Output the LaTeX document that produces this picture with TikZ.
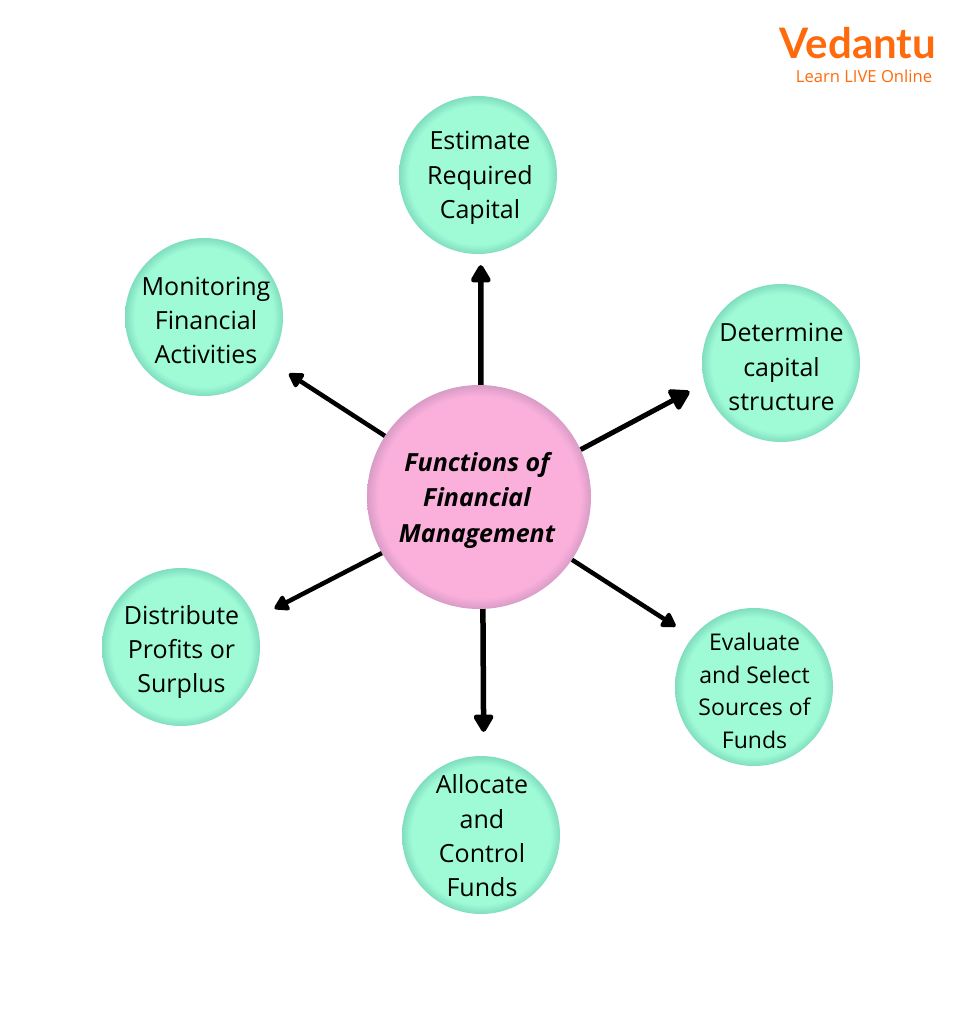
\documentclass[tikz,border=0pt]{standalone}
\usepackage{fontspec}
\setmainfont{Open Sans}
\newfontfamily\logofont{Lato}
\usetikzlibrary{arrows.meta}
\definecolor{ballgreen}{HTML}{9FFBD6}
\definecolor{edgegreen}{HTML}{80DDBF}
\definecolor{ballpink}{HTML}{FBB0DC}
\definecolor{edgepink}{HTML}{D89CC6}
\definecolor{logoorange}{HTML}{FF6A0D}
\pgfdeclareradialshading{greenball}{\pgfpointorigin}{color(0bp)=(ballgreen); color(22bp)=(ballgreen); color(25bp)=(edgegreen); color(50bp)=(edgegreen)}
\pgfdeclareradialshading{pinkball}{\pgfpointorigin}{color(0bp)=(ballpink); color(22.5bp)=(ballpink); color(25bp)=(edgepink); color(50bp)=(edgepink)}
\begin{document}
\begin{tikzpicture}[
        x=1pt, y=-1pt,
        every node/.style={font=\fontsize{25}{34.3}\selectfont, align=center, inner sep=0pt},
        task/.style={circle, shading=greenball, minimum size=158pt},
        hub/.style={circle, shading=pinkball, minimum size=224pt},
        bigarrow/.style={-{Triangle[length=22pt, width=25pt, round]}, line width=5pt},
        thickarrow/.style={-{Triangle[length=20pt, width=22pt, round]}, line width=5.5pt},
        thinarrow/.style={-{Triangle[length=16pt, width=18pt, round]}, line width=4.5pt}
    ]
    \useasboundingbox (0,0) rectangle (957,1011);

    \node[hub] (functions) at (479,497) {};
    \node[font=\fontsize{25}{35.5}\selectfont] (functionstext) at (477,500) {\bfseries\itshape Functions of\\\bfseries\itshape Financial\\\bfseries\itshape Management};

    \node[task] (estimate) at (478,175) {};
    \node (estimatetext) at (480,178) {Estimate\\Required\\Capital};
    \node[task] (determine) at (781,363) {};
    \node (determinetext) at (781.5,367) {Determine\\capital\\structure};
    \node[task] (evaluate) at (754,687) {};
    \node[font=\fontsize{23}{32.5}\selectfont] (evaluatetext) at (754.5,691) {Evaluate\\and Select\\Sources of\\Funds};
    \node[task] (allocate) at (481,835) {};
    \node (allocatetext) at (482,836) {Allocate\\and\\Control\\Funds};
    \node[task] (distribute) at (181,647) {};
    \node (distributetext) at (181.5,652) {Distribute\\Profits or\\Surplus};
    \node[task] (monitoring) at (204,317) {};
    \node (monitoringtext) at (206,320.5) {Monitoring\\Financial\\Activities};

    \draw[thickarrow, shorten >=11pt] (functions.89) -- (estimate.272);
    \draw[bigarrow, shorten >=17pt] (functions.25.9) -- (determine.195.7);
    \draw[thinarrow, shorten >=20pt] (functions.326.5) -- (evaluate.141.8);
    \draw[thickarrow, shorten >=24pt] (functions.272) -- (allocate.88.5);
    \draw[thinarrow, shorten >=22pt] (functions.210) -- (distribute.21.5);
    \draw[thinarrow, shorten >=23pt] (functions.147) -- (monitoring.326.6);

    % logo
    \node[text=logoorange, font=\logofont\bfseries\fontsize{42}{42}\selectfont, text depth=0pt] (logo) at (858,43) {Vedantu};
    \node[text=logoorange, font=\fontsize{16.6}{18}\selectfont, text height=12pt, text depth=0pt] (tagline) at (864,77) {Learn LIVE Online};
\end{tikzpicture}
\end{document}
